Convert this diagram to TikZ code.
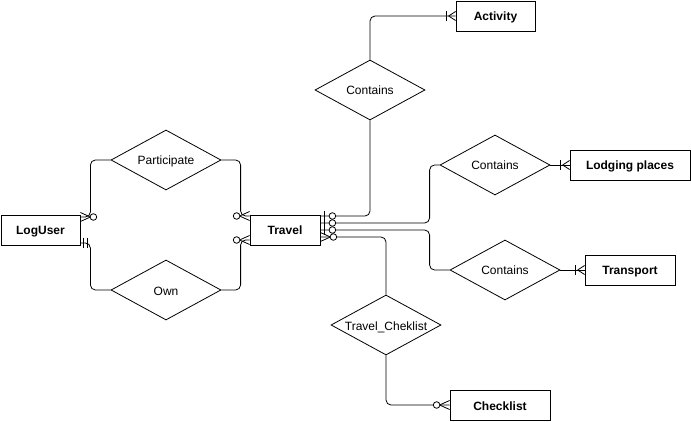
\documentclass[tikz,border=0pt]{standalone}
\usepackage{fontspec}
\setmainfont{Liberation Sans}
\usetikzlibrary{shapes.geometric, decorations.markings}

\newcommand{\reltxt}[1]{\makebox[0pt]{#1}}

\begin{document}
\begin{tikzpicture}[x=1pt, y=-1pt, line width=0.8pt, rounded corners=5pt,
	every node/.style={draw, sharp corners, text height=10pt, text depth=0pt, font=\fontsize{12pt}{14pt}\selectfont},
	entity/.style={rectangle, minimum height=30pt, inner sep=0pt, font=\fontsize{12pt}{14pt}\selectfont\bfseries},
	relation/.style={diamond, minimum width=110pt, minimum height=60pt, inner sep=0pt},
	zeromany/.style={postaction={decorate, decoration={markings, mark=at position 1 with {
		\draw (-10pt,0pt) -- (0pt,4.5pt) (-10pt,0pt) -- (0pt,-4.5pt);
		\draw[fill=white] (-13pt,0pt) circle (3.3pt);}}}},
	onemany/.style={postaction={decorate, decoration={markings, mark=at position 1 with {
		\draw (-7pt,0pt) -- (0pt,4.5pt) (-7pt,0pt) -- (0pt,-4.5pt);
		\draw (-9pt,-5pt) -- (-9pt,5pt);}}}},
	zeroone/.style={postaction={decorate, decoration={markings, mark=at position 1 with {
		\draw (-4pt,-5pt) -- (-4pt,5pt);
		\draw[fill=white] (-12pt,0pt) circle (3.3pt);}}}},
	oneone/.style={postaction={decorate, decoration={markings, mark=at position 1 with {
		\draw (-3pt,-5pt) -- (-3pt,5pt) (-7pt,-5pt) -- (-7pt,5pt);}}}}]
	\useasboundingbox (0,0) rectangle (691,422);
	\node[entity, minimum width=79pt] (LogUser) at (40.5,230) {LogUser};
	\node[entity, minimum width=70pt] (Travel) at (285,230) {Travel};
	\node[entity, minimum width=79pt] (Activity) at (495.5,16) {Activity};
	\node[entity, minimum width=120pt] (Lodging) at (630,165) {Lodging places};
	\node[entity, minimum width=90pt] (Transport) at (630,270) {Transport};
	\node[entity, minimum width=100pt] (Checklist) at (500,405) {Checklist};
	\node[relation] (dA) at (370,90) {\reltxt{Contains}};
	\node[relation] (dP) at (166,160) {\reltxt{Participate}};
	\node[relation] (dO) at (166,290) {\reltxt{Own}};
	\node[relation] (dL) at (495,165) {\reltxt{Contains}};
	\node[relation] (dT) at (505,270) {\reltxt{Contains}};
	\node[relation] (dC) at (386,325) {\reltxt{Travel\_Cheklist}};
	\draw[zeromany] (dP.west) -| ([xshift=10pt,yshift=13pt]LogUser.east) -- ([yshift=13pt]LogUser.east);
	\draw[oneone] (dO.west) -| ([xshift=10pt,yshift=-13pt]LogUser.east) -- ([yshift=-13pt]LogUser.east);
	\draw[zeromany] (dP.east) -| ([xshift=-9pt,yshift=14pt]Travel.west) -- ([yshift=14pt]Travel.west);
	\draw[zeromany] (dO.east) -| ([xshift=-9pt,yshift=-10pt]Travel.west) -- ([yshift=-10pt]Travel.west);
	\draw[zeroone] (dA.south) |- ([yshift=14pt]Travel.east);
	\draw[zeroone] (dL.west) -- ++(-10,0) |- ([yshift=7pt]Travel.east);
	\draw[zeroone] (dT.west) -- ++(-20,0) |- (Travel.east);
	\draw[zeromany] (dC.north) |- ([yshift=-7pt]Travel.east);
	\draw[onemany] (dA.north) |- (Activity.west);
	\draw[onemany] (dL.east) -- (Lodging.west);
	\draw[onemany] (dT.east) -- (Transport.west);
	\draw[zeromany] (dC.south) |- (Checklist.west);
\end{tikzpicture}
\end{document}
